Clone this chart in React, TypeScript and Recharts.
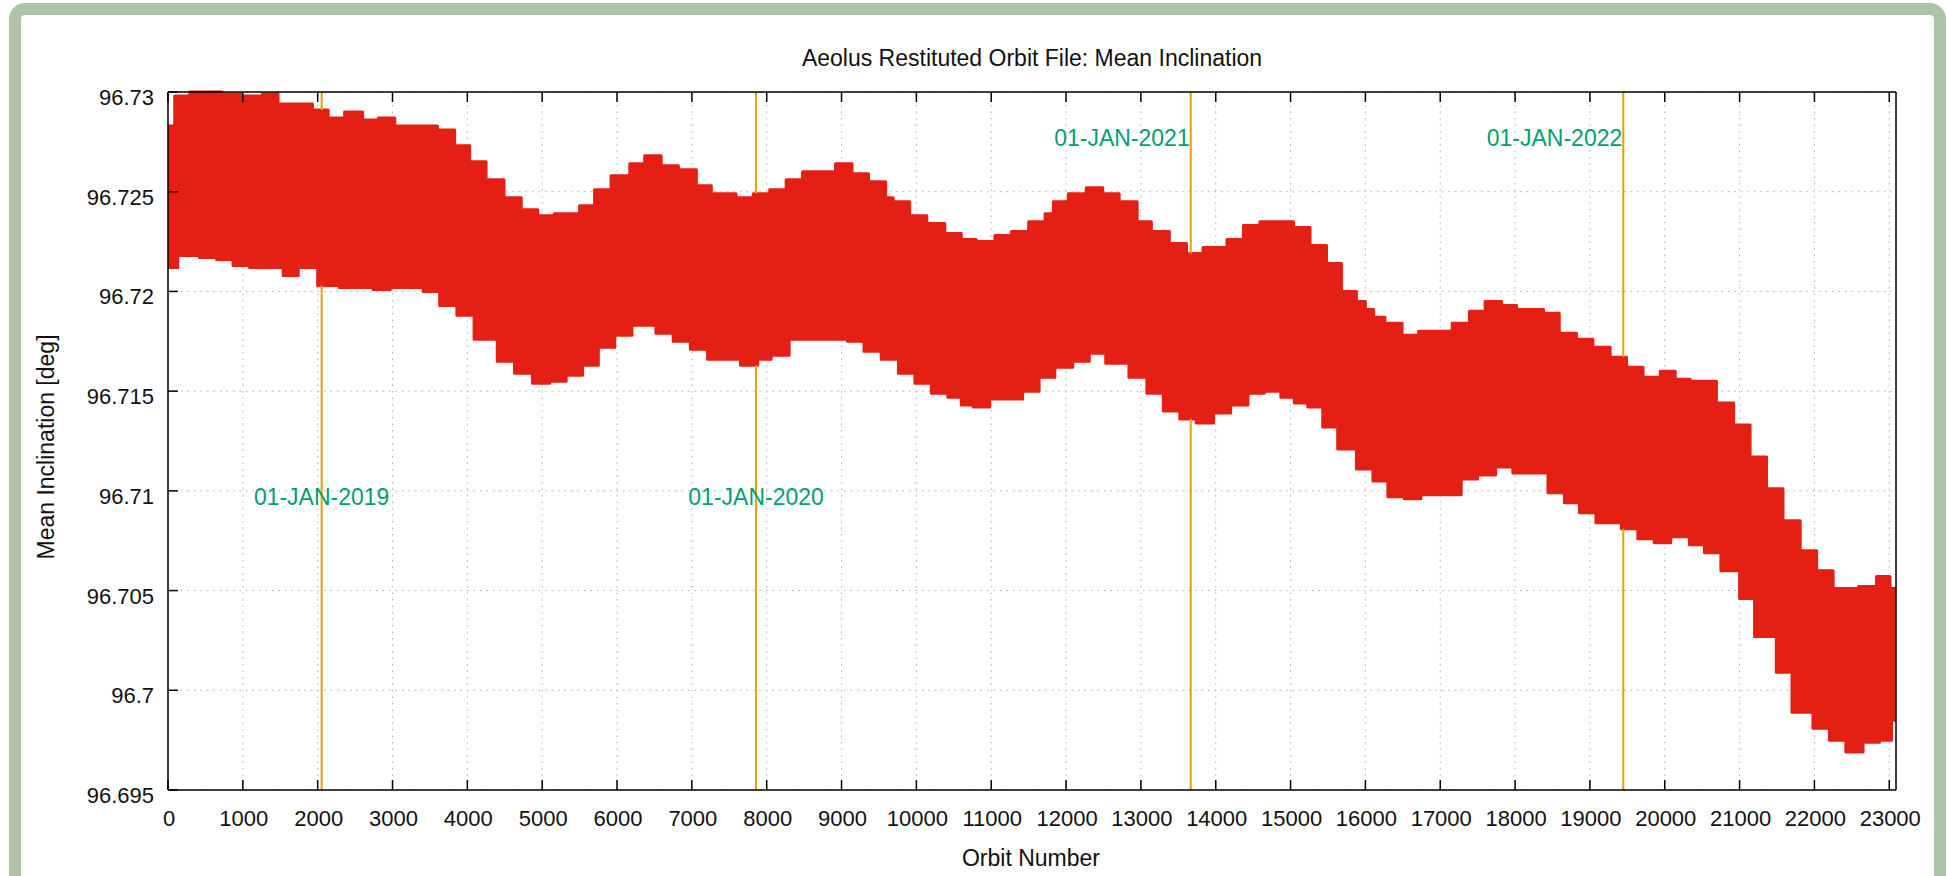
import React from "react";
import {
  ComposedChart,
  Area,
  XAxis,
  YAxis,
  CartesianGrid,
  ReferenceDot,
} from "recharts";

// upper edge of the band: orbit where each tooth starts, and its mean inclination
const topOrbit = [
  0, 90, 290, 500, 720, 970, 1260, 1470, 1710, 1930, 2140, 2360, 2600, 2810, 3030, 3360, 3600, 3830,
  4030, 4250, 4490, 4720, 4940, 5160, 5500, 5700, 5920, 6170, 6370, 6590, 6820, 7060, 7260, 7590, 7820,
  8040, 8260, 8480, 8700, 8920, 9140, 9360, 9590, 9690, 9910, 10140, 10380, 10600, 10800, 11050, 11270,
  11500, 11720, 11830, 12030, 12270, 12490, 12710, 12950, 13140, 13380, 13610, 13830, 14150, 14370,
  14590, 14810, 15040, 15260, 15480, 15680, 15880, 16000, 16110, 16260, 16490, 16710, 16920, 17160,
  17390, 17600, 17820, 18020, 18380, 18590, 18820, 19040, 19270, 19490, 19710, 19940, 20140, 20340,
  20690, 20920, 21140, 21360, 21580, 21810, 22030, 22250, 22590, 22830, 23010,
];
const topInc = [
  96.7283, 96.7298, 96.73, 96.73, 96.7299, 96.7298, 96.7299, 96.7294, 96.7294, 96.7291, 96.7287, 96.729,
  96.7286, 96.7287, 96.7283, 96.7283, 96.7281, 96.7273,
  96.7265, 96.7256, 96.7247, 96.7241, 96.7238, 96.7239, 96.7243, 96.7251, 96.7258, 96.7264, 96.7268,
  96.7263, 96.7261, 96.7253, 96.7249, 96.7247, 96.7249,
  96.7251, 96.7256, 96.726, 96.726, 96.7264, 96.7259, 96.7255, 96.7247, 96.7245, 96.7238, 96.7234,
  96.7229, 96.7226, 96.7225, 96.7228, 96.723, 96.7235, 96.7239, 96.7245,
  96.7249, 96.7252, 96.7249, 96.7245, 96.7235, 96.723, 96.7224, 96.7219, 96.7222, 96.7226, 96.7233,
  96.7235, 96.7235, 96.7232, 96.7223, 96.7214, 96.72, 96.7195,
  96.7191, 96.7187, 96.7184, 96.7178, 96.718, 96.718, 96.7184, 96.719, 96.7195, 96.7193, 96.7191,
  96.7189, 96.7179, 96.7176, 96.7172, 96.7167, 96.7162, 96.7157,
  96.716, 96.7156, 96.7155, 96.7144, 96.7133, 96.7117, 96.7101, 96.7085, 96.707, 96.706, 96.7051,
  96.7052, 96.7057, 96.7051,
];

// lower edge of the band
const lowOrbit = [
  0, 130, 420, 650, 870, 1090, 1320, 1540, 1740, 2000, 2290, 2520, 2740, 2970, 3190, 3410, 3630, 3860,
  4090, 4400, 4630, 4870, 5100, 5320, 5540, 5750, 5970, 6200, 6520, 6750, 6980, 7210, 7440, 7650, 7880,
  8060, 8300, 8610, 8840, 9080, 9300, 9530, 9760, 9980, 10200, 10420, 10600, 10760, 10980, 11200, 11420,
  11640, 11850, 12090, 12310, 12530, 12840, 13080, 13300, 13520, 13740, 13970, 14200, 14430, 14650,
  14870, 15050, 15230, 15430, 15630, 15880, 16100, 16300, 16520, 16740, 16970, 17280, 17500, 17740,
  17970, 18190, 18440, 18660, 18860, 19080, 19420, 19640, 19860, 20080, 20330, 20530, 20750, 21000,
  21200, 21490, 21700, 21980, 22200, 22420, 22650, 22870, 23030,
];
const lowInc = [
  96.7212, 96.7218, 96.7217, 96.7216, 96.7213, 96.7212, 96.7212, 96.7208, 96.7212, 96.7203, 96.7202,
  96.7202, 96.7201, 96.7202, 96.7202, 96.72, 96.7193, 96.7188,
  96.7176, 96.7165, 96.7159, 96.7154, 96.7155, 96.7158, 96.7163, 96.7172, 96.7178, 96.7183, 96.7179,
  96.7175, 96.7171, 96.7166, 96.7166, 96.7163, 96.7166,
  96.7168, 96.7176, 96.7176, 96.7176, 96.7175, 96.717, 96.7166, 96.7159, 96.7154, 96.7149, 96.7147,
  96.7143, 96.7142, 96.7146, 96.7146, 96.715, 96.7157, 96.7162,
  96.7165, 96.7169, 96.7164, 96.7157, 96.7149, 96.714, 96.7136, 96.7134, 96.7139, 96.7143, 96.7149,
  96.715, 96.7147, 96.7144, 96.7142, 96.7132, 96.7121, 96.7111,
  96.7105, 96.7097, 96.7096, 96.7098, 96.7098, 96.7106, 96.7108, 96.7112, 96.7109, 96.7109, 96.7099,
  96.7094, 96.7089, 96.7084, 96.7081, 96.7076, 96.7074,
  96.7077, 96.7073, 96.7069, 96.706, 96.7046, 96.7027, 96.7009, 96.6989, 96.6981, 96.6975, 96.6969,
  96.6974, 96.6975, 96.6985,
];

const lastOrbit = 23090;

// 01-JAN of each year, as orbit numbers
const yearOrbit = [2053, 7858, 13666, 19446];
const yearLabel = ["01-JAN-2019", "01-JAN-2020", "01-JAN-2021", "01-JAN-2022"];

const xTicks = [
  0, 1000, 2000, 3000, 4000, 5000, 6000, 7000, 8000, 9000, 10000, 11000, 12000, 13000, 14000, 15000,
  16000, 17000, 18000, 19000, 20000, 21000, 22000, 23000,
];
const yTicks = [96.695, 96.7, 96.705, 96.71, 96.715, 96.72, 96.725, 96.73];
const yMin = 96.695;
const yMax = 96.73;

// where the date labels sit (layout only)
const yearLabelY = [96.7097, 96.7097, 96.7277, 96.7277];
const yearLabelPos = ["center", "center", "left", "left"];

const RED = "#e41f13";
const ORANGE = "#e69f00";
const TEAL = "#009e73";
const FONT = '"Liberation Sans", Arial, Helvetica, sans-serif';
const TICK = 10;

function stepValue(starts: number[], vals: number[], o: number) {
  let v = vals[0];
  for (let i = 0; i < starts.length; i++) if (starts[i] <= o) v = vals[i];
  return v;
}

const breaks = Array.from(new Set([...topOrbit, ...lowOrbit, lastOrbit])).sort((a, b) => a - b);
const bandData = breaks.map((o) => ({
  orbit: o,
  band: [stepValue(lowOrbit, lowInc, o), stepValue(topOrbit, topInc, o)],
}));

// vertical year markers: the part above and the part below the band (the band hides the rest)
const yearLines = yearOrbit.flatMap((o) => [
  [
    { orbit: o, mark: stepValue(topOrbit, topInc, o) },
    { orbit: o, mark: yMax },
  ],
  [
    { orbit: o, mark: yMin },
    { orbit: o, mark: stepValue(lowOrbit, lowInc, o) },
  ],
]);

const fmtY = (v: number) => String(Number(v.toFixed(3)));

const BottomTick = (p: any) => (
  <g>
    <line x1={p.x} y1={p.y} x2={p.x} y2={p.y - TICK} stroke="#000" strokeWidth={1.5} />
    <text x={p.x + 1} y={p.y + 36} textAnchor="middle" fontSize={22} fill="#111">
      {p.payload.value}
    </text>
  </g>
);

const TopTick = (p: any) => (
  <line x1={p.x} y1={p.y} x2={p.x} y2={p.y + TICK} stroke="#000" strokeWidth={1.5} />
);

const LeftTick = (p: any) => (
  <g>
    <line x1={p.x} y1={p.y} x2={p.x + TICK} y2={p.y} stroke="#000" strokeWidth={1.5} />
    <text x={p.x - 14} y={p.y + 13} textAnchor="end" fontSize={22} fill="#111">
      {fmtY(p.payload.value)}
    </text>
  </g>
);

const RightTick = (p: any) => (
  <line x1={p.x} y1={p.y} x2={p.x - TICK} y2={p.y} stroke="#000" strokeWidth={1.5} />
);

export default function App() {
  return (
    <div
      style={{
        position: "absolute",
        left: 0,
        top: 0,
        width: 1947,
        height: 876,
        overflow: "hidden",
        background: "#fff",
        fontFamily: FONT,
      }}
    >
      <div
        style={{
          position: "absolute",
          left: 9,
          top: 3,
          width: 1937,
          height: 900,
          boxSizing: "border-box",
          border: "12px solid #adc4a8",
          borderRadius: 16,
          background: "#fff",
        }}
      />
      <div style={{ position: "absolute", left: 0, top: 0 }}>
        <ComposedChart
          width={1947}
          height={876}
          data={bandData}
          margin={{ top: 91, right: 50, bottom: 46, left: 88 }}
        >
          <CartesianGrid stroke="#b0b0b0" strokeWidth={1} strokeDasharray="1.5 5" />
          <XAxis
            dataKey="orbit"
            type="number"
            domain={[0, lastOrbit]}
            ticks={xTicks}
            interval={0}
            height={40}
            tickSize={0}
            tickMargin={0}
            tickLine={false}
            axisLine={{ stroke: "#000", strokeWidth: 1.5 }}
            tick={BottomTick}
          />
          <XAxis
            xAxisId="top"
            orientation="top"
            dataKey="orbit"
            type="number"
            domain={[0, lastOrbit]}
            ticks={xTicks}
            interval={0}
            height={1}
            tickSize={0}
            tickMargin={0}
            tickLine={false}
            axisLine={{ stroke: "#000", strokeWidth: 1.5 }}
            tick={TopTick}
          />
          <YAxis
            type="number"
            domain={[yMin, yMax]}
            ticks={yTicks}
            interval={0}
            width={80}
            tickSize={0}
            tickMargin={0}
            tickLine={false}
            axisLine={{ stroke: "#000", strokeWidth: 1.5 }}
            tick={LeftTick}
          />
          <YAxis
            yAxisId="right"
            orientation="right"
            type="number"
            domain={[yMin, yMax]}
            ticks={yTicks}
            interval={0}
            width={1}
            tickSize={0}
            tickMargin={0}
            tickLine={false}
            axisLine={{ stroke: "#000", strokeWidth: 1.5 }}
            tick={RightTick}
          />
          <Area
            dataKey="band"
            type="stepAfter"
            stroke={RED}
            strokeWidth={3}
            strokeLinejoin="round"
            fill={RED}
            fillOpacity={1}
            dot={false}
            activeDot={false}
            isAnimationActive={false}
          />
          {yearLines.map((d, i) => (
            <Area
              key={"y" + i}
              data={d}
              dataKey="mark"
              type="linear"
              stroke={ORANGE}
              strokeWidth={2}
              fill="none"
              dot={false}
              activeDot={false}
              isAnimationActive={false}
            />
          ))}
          {yearOrbit.map((o, i) => (
            <ReferenceDot
              key={"d" + o}
              x={o}
              y={yearLabelY[i]}
              r={0}
              fill="none"
              stroke="none"
              label={{
                value: yearLabel[i],
                position: yearLabelPos[i] as any,
                offset: 1,
                fill: TEAL,
                fontSize: 23,
              }}
            />
          ))}
        </ComposedChart>
      </div>
      <svg
        width={1947}
        height={876}
        style={{ position: "absolute", left: 0, top: 0, pointerEvents: "none" }}
      >
        <text x={1032} y={66} textAnchor="middle" fontSize={23} fill="#111">
          Aeolus Restituted Orbit File: Mean Inclination
        </text>
        <text x={1031} y={866} textAnchor="middle" fontSize={23} fill="#111">
          Orbit Number
        </text>
        <text
          transform="translate(54, 447) rotate(-90)"
          textAnchor="middle"
          fontSize={23}
          fill="#111"
        >
          Mean Inclination [deg]
        </text>
      </svg>
    </div>
  );
}
